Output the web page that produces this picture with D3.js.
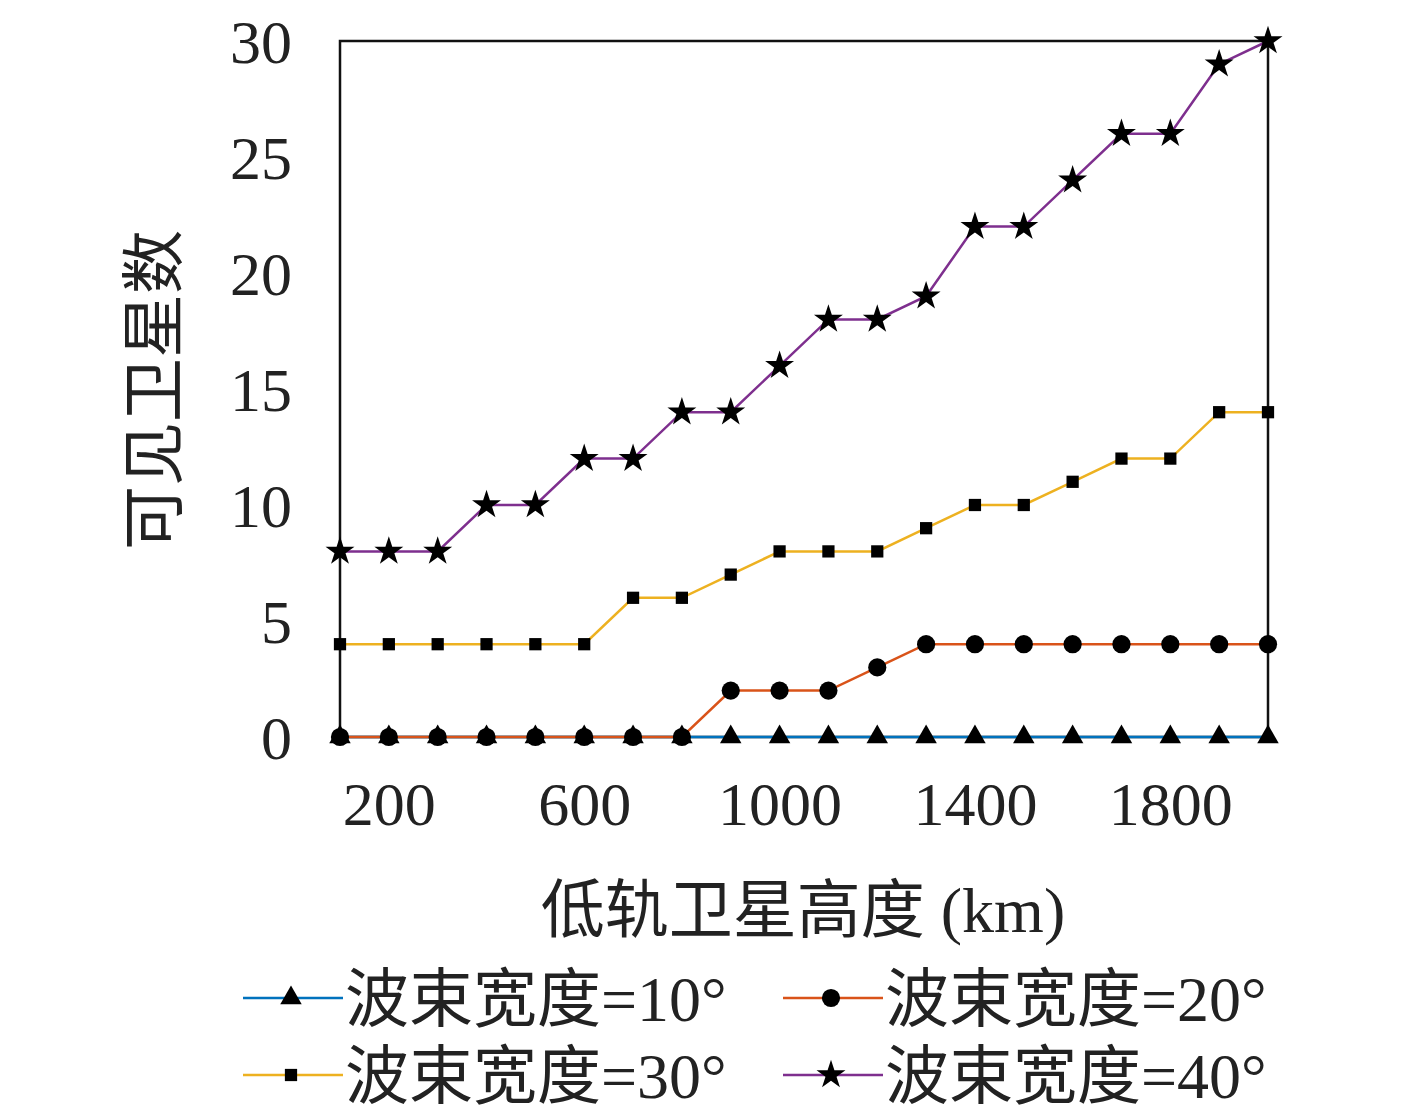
<!DOCTYPE html>
<html><head><meta charset="utf-8">
<script src="https://cdn.jsdelivr.net/npm/d3@7"></script>
<style>body{margin:0;background:#fff}</style>
</head><body><div id="chart"></div>
<script>
const heights = d3.range(100, 2001, 100);
const beam10 = [0,0,0,0,0,0,0,0,0,0,0,0,0,0,0,0,0,0,0,0];
const beam20 = [0,0,0,0,0,0,0,0,2,2,2,3,4,4,4,4,4,4,4,4];
const beam30 = [4,4,4,4,4,4,6,6,7,8,8,8,9,10,10,11,12,12,14,14];
const beam40 = [8,8,8,10,10,12,12,14,14,16,18,18,19,22,22,24,26,26,29,30];
const xTicks = [200, 600, 1000, 1400, 1800];
const yTicks = [0, 5, 10, 15, 20, 25, 30];

const series = [
  {name: "波束宽度=10°", values: beam10, color: "#0072BD", marker: d3.symbolTriangle},
  {name: "波束宽度=20°", values: beam20, color: "#D95319", marker: d3.symbolCircle},
  {name: "波束宽度=30°", values: beam30, color: "#EDB120", marker: d3.symbolSquare},
  {name: "波束宽度=40°", values: beam40, color: "#7E2F8E", marker: d3.symbolStar}
];

const latin = "'Liberation Serif', 'DejaVu Serif', serif";
const cjk = "'Noto Sans CJK SC', sans-serif";

const svg = d3.select("#chart").append("svg")
  .attr("width", 1417).attr("height", 1120);

const x = d3.scaleLinear().domain([100, 2000]).range([340, 1268]);
const y = d3.scaleLinear().domain([0, 30]).range([737, 41]);

function sym(m) {
  const size = m === d3.symbolStar ? 260 : m === d3.symbolCircle ? 260 : m === d3.symbolSquare ? 150 : 200;
  return d3.symbol().type(m).size(size)();
}

// box
svg.append("rect").attr("x", 340).attr("y", 41).attr("width", 928).attr("height", 696)
  .attr("fill", "none").attr("stroke", "#111").attr("stroke-width", 2.5);

const xa = svg.append("g").attr("transform", "translate(0,737)")
  .call(d3.axisBottom(x).tickValues(xTicks).tickSize(0).tickPadding(44).tickFormat(d3.format("d")));
xa.select(".domain").remove();
xa.selectAll("text").attr("font-family", latin).attr("font-size", 62).attr("fill", "#222");

const ya = svg.append("g").attr("transform", "translate(340,0)")
  .call(d3.axisLeft(y).tickValues(yTicks).tickSize(0).tickPadding(48));
ya.select(".domain").remove();
ya.selectAll("text").attr("font-family", latin).attr("font-size", 62).attr("fill", "#222").attr("dy", "0.35em");

const line = d3.line().x((d, i) => x(heights[i])).y(d => y(d));
series.forEach(s => {
  svg.append("path").datum(s.values).attr("d", line)
    .attr("fill", "none").attr("stroke", s.color).attr("stroke-width", 2.5);
  svg.append("g").selectAll("path").data(s.values).join("path")
    .attr("d", sym(s.marker))
    .attr("transform", (d, i) => `translate(${x(heights[i])},${y(d)})`)
    .attr("fill", "#000");
});

svg.append("text").attr("x", 803).attr("y", 932).attr("text-anchor", "middle")
  .attr("font-size", 64).attr("fill", "#222")
  .html(`<tspan font-family="${cjk}">低轨卫星高度</tspan><tspan font-family="${latin}"> (km)</tspan>`);

svg.append("text").attr("transform", "translate(176,390) rotate(-90)").attr("text-anchor", "middle")
  .attr("font-family", cjk).attr("font-size", 64).attr("fill", "#222").text("可见卫星数");

// legend
const legPos = [[243, 998], [783, 998], [243, 1075], [783, 1075]];
series.forEach((s, i) => {
  const [lx, ly] = legPos[i];
  const g = svg.append("g").attr("transform", `translate(${lx},${ly})`);
  g.append("line").attr("x1", 0).attr("x2", 100).attr("stroke", s.color).attr("stroke-width", 2.5);
  g.append("path").attr("d", sym(s.marker)).attr("transform", "translate(48,0)").attr("fill", "#000");
  const parts = s.name.split("=");
  g.append("text").attr("x", 102).attr("y", 0).attr("dy", "0.36em").attr("font-size", 64).attr("fill", "#222")
    .html(`<tspan font-family="${cjk}">${parts[0]}</tspan><tspan font-family="${latin}">=${parts[1]}</tspan>`);
});
</script></body></html>
